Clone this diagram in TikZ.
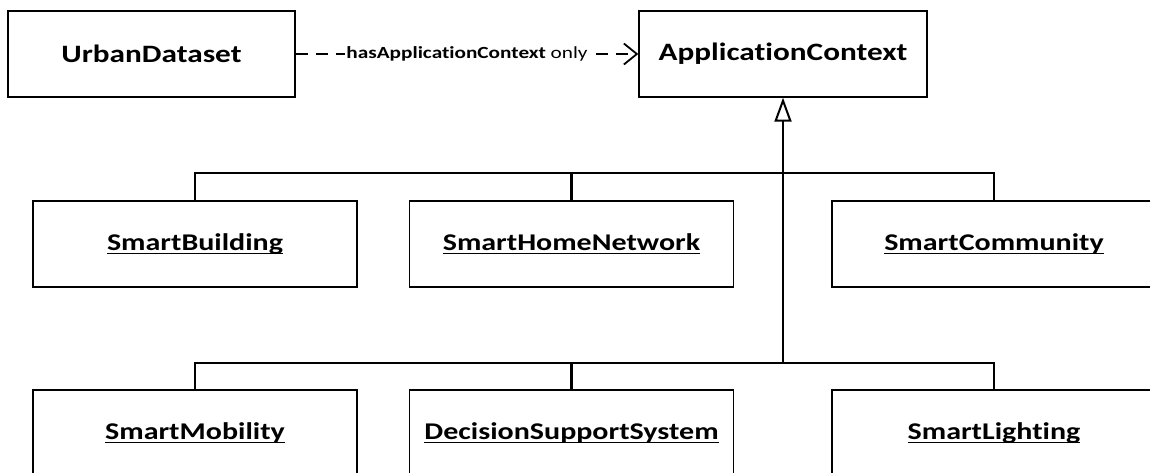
\documentclass[tikz,border=0pt]{standalone}
\usepackage{fontspec}
\setmainfont{Carlito}
\newfontfamily\boxfont{Carlito}[FakeStretch=1.25,Ligatures=NoCommon]
\usetikzlibrary{arrows.meta}
\tikzset{gen/.style = {-{Triangle[open,length=24pt,width=17pt,line width=2pt]}}}
\tikzset{dep/.style = {-{Straight Barb[length=13pt,width=21pt,line width=1.8pt]}}}
\newcommand{\ulname}[1]{\setbox0\hbox{#1}\rlap{\rule[-4pt]{\wd0}{1.5pt}}\box0}

\begin{document}
\begin{tikzpicture}[x=1pt,y=1pt,
    cls/.style={draw,line width=1.4pt,minimum height=86pt,inner sep=0pt,
        font=\boxfont\fontsize{25}{28}\selectfont\bfseries},
    inst/.style={cls,minimum width=324pt,
        font=\boxfont\fontsize{24}{28}\selectfont\bfseries},
    prop/.style={fill=white,inner sep=1pt,
        font=\boxfont\fontsize{17}{20}\selectfont},
    tree/.style={line width=2.2pt},
    ]

    % Page
    \useasboundingbox (0,0) rectangle (1150,-472);
    \clip (0,0) rectangle (1150,-472);

    % Classes
    \node[cls,minimum width=287pt] (urban) at (151.5,-54) {UrbanDataset};
    \node[cls,minimum width=288pt] (appctx) at (783,-54) {ApplicationContext};

    % Instances, upper row
    \node[inst] (building) at (195,-244) {\ulname{SmartBuilding}};
    \node[inst] (homenet) at (571.5,-244) {\ulname{SmartHomeNetwork}};
    \node[inst] (community) at (994,-244) {\ulname{SmartCommunity}};

    % Instances, lower row
    \node[inst] (mobility) at (195,-433) {\ulname{SmartMobility}};
    \node[inst] (dss) at (571.5,-433) {\ulname{DecisionSupportSystem}};
    \node[inst] (lighting) at (994,-433) {\ulname{SmartLighting}};

    % Object property
    \draw[dep,line width=1.6pt,dash pattern=on 12pt off 8pt] (urban) --
        node[prop] {\textbf{hasApplicationContext} only} (appctx);

    % Subclass tree
    \coordinate (bar1) at (0,-173);
    \coordinate (bar2) at (0,-363);
    \draw[tree] (building.north) |- (community.north |- bar1) -- (community.north);
    \draw[tree] (homenet.north) -- (homenet.north |- bar1);
    \draw[tree] (mobility.north) |- (lighting.north |- bar2) -- (lighting.north);
    \draw[tree] (dss.north) -- (dss.north |- bar2);
    \draw[tree,gen] (appctx.south |- bar2) -- (appctx.south);

\end{tikzpicture}
\end{document}
